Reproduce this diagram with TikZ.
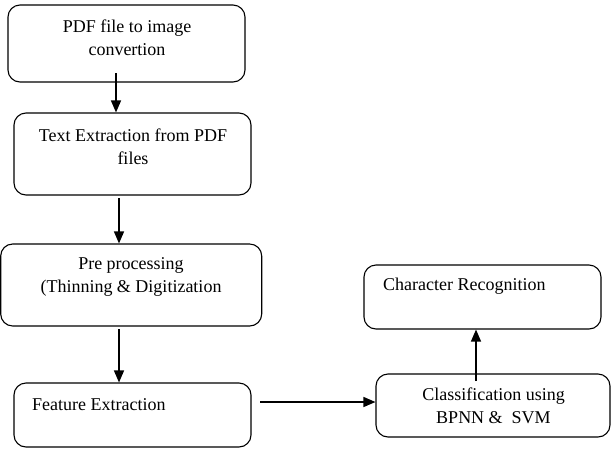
\documentclass[tikz,border=0pt]{standalone}
\usepackage{fontspec}
\setmainfont{Liberation Serif}
\usetikzlibrary{arrows.meta}

\begin{document}
\begin{tikzpicture}[
  x=1pt, y=-1pt,
  box/.style={draw=black, line width=1.1pt, rounded corners=12pt,
              inner sep=0pt},
  lbl/.style={inner sep=0pt, align=center,
              font=\fontsize{18}{23}\selectfont},
  arr/.style={draw=black, line width=1.3pt,
              -{Triangle[length=12pt, width=10pt]}},
]
  \useasboundingbox (0,0) rectangle (611,448);
  % boxes
  \node[box, minimum width=237pt, minimum height=77pt] (b1) at (126.5,43.5) {};
  \node[box, minimum width=237pt, minimum height=82pt] (b2) at (132.5,154) {};
  \node[box, minimum width=261pt, minimum height=82pt] (b3) at (131.2,285) {};
  \node[box, minimum width=237pt, minimum height=64pt] (b4) at (132.5,415) {};
  \node[box, minimum width=234pt, minimum height=63pt] (b5) at (493,405.5) {};
  \node[box, minimum width=237pt, minimum height=64pt] (b6) at (482.5,297) {};
  % texts
  \node[lbl] (t1) at (127,38) {PDF file to image\\convertion};
  \node[lbl] (t2) at (133,147) {Text Extraction from PDF\\files};
  \node[lbl] (t3) at (131,277) {Pre processing\\(Thinning \& Digitization};
  \node[lbl, anchor=west] (t4) at (32,405) {Feature Extraction};
  \node[lbl] (t5) at (493.5,406) {Classification using\\BPNN \& ~SVM};
  \node[lbl, anchor=west] (t6) at (383,286) {Character Recognition};
  % arrows
  \coordinate (s1) at (116,73);
  \coordinate (s2) at (119,198);
  \coordinate (s3) at (119,329);
  \coordinate (s4) at (260,402);
  \coordinate (s5) at (476,381);
  \draw[arr] (s1) -- (s1 |- b2.north);
  \draw[arr] (s2) -- (s2 |- b3.north);
  \draw[arr] (s3) -- (s3 |- b4.north);
  \draw[arr] (s4) -- (s4 -| b5.west);
  \draw[arr] (s5) -- (s5 |- b6.south);
\end{tikzpicture}
\end{document}
